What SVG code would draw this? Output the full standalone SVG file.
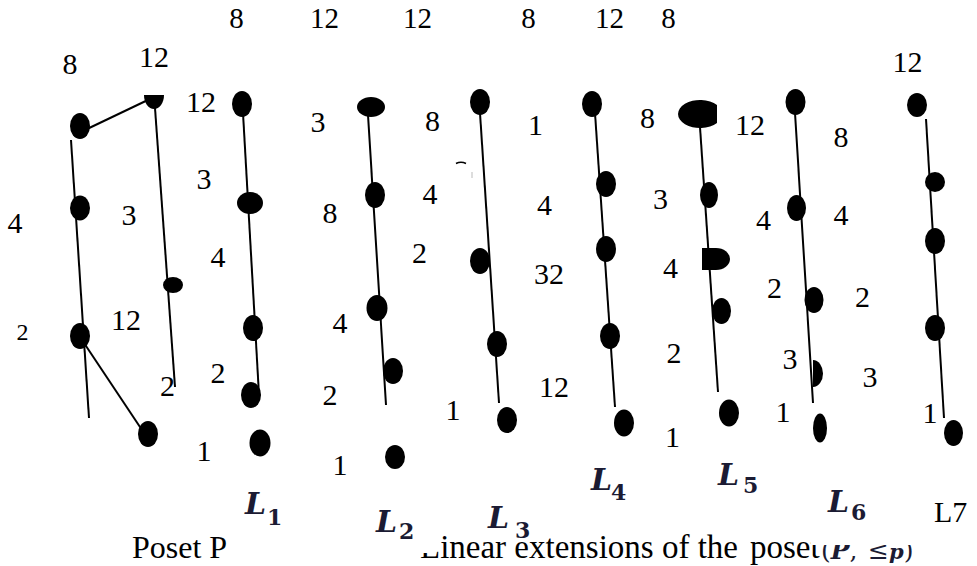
<svg xmlns="http://www.w3.org/2000/svg" width="977" height="566" viewBox="0 0 977 566">
<style>
.t{font-size:30px;fill:#000;text-anchor:middle}
.top{font-size:29px}
.L{font-style:italic;font-weight:bold;font-size:30px;fill:#1b1b33}
.sub{font-weight:bold;font-size:22px;fill:#1b1b33}
.edge{stroke:#000;stroke-width:2;fill:none}
.n{fill:#000}
.cap{font-size:33px;fill:#000}
</style>
<rect width="977" height="566" fill="#fff"/>

<!-- connectors -->
<g id="connectors">
  <line class="edge" x1="85" y1="130" x2="152" y2="98"/>
  <line class="edge" x1="71" y1="140" x2="89" y2="418"/>
  <line class="edge" x1="84" y1="343" x2="142" y2="430"/>
  <line class="edge" x1="155" y1="108" x2="175" y2="387"/>
  <line class="edge" x1="243" y1="113" x2="259" y2="395"/>
  <line class="edge" x1="368" y1="115" x2="386" y2="405"/>
  <line class="edge" x1="480" y1="113" x2="499" y2="403"/>
  <line class="edge" x1="595" y1="113" x2="615" y2="407"/>
  <line class="edge" x1="700" y1="127" x2="718" y2="392"/>
  <line class="edge" x1="795" y1="113" x2="813" y2="403"/>
  <line class="edge" x1="926" y1="119" x2="944" y2="418"/>
</g>

<!-- Poset P -->
<g id="poset">
  <g id="P-8"><ellipse class="n" cx="80" cy="126" rx="10" ry="13"/></g>
  <g id="P-12"><path class="n" d="M144,95 H164 A10,14 0 0 1 144,95 Z"/></g>
  <g id="P-4"><ellipse class="n" cx="80" cy="208" rx="10" ry="12.5"/></g>
  <g id="P-3"><ellipse class="n" cx="173" cy="285" rx="10" ry="8"/></g>
  <g id="P-2"><ellipse class="n" cx="80" cy="336" rx="10" ry="13"/></g>
  <g id="P-1"><ellipse class="n" cx="148" cy="434" rx="10" ry="13"/></g>
</g>

<g id="L1">
  <g id="L1-12"><ellipse class="n" cx="242" cy="104" rx="10" ry="13"/></g>
  <g id="L1-3"><ellipse class="n" cx="250" cy="203" rx="13" ry="11"/></g>
  <g id="L1-4"><ellipse class="n" cx="253" cy="328" rx="10" ry="13"/></g>
  <g id="L1-2"><ellipse class="n" cx="251" cy="395" rx="10" ry="13"/></g>
  <g id="L1-1"><ellipse class="n" cx="260" cy="443" rx="10.5" ry="13.5"/></g>
</g>

<g id="L2">
  <g id="L2-3"><ellipse class="n" cx="371" cy="107" rx="14" ry="10"/></g>
  <g id="L2-8"><ellipse class="n" cx="375" cy="195" rx="10" ry="13"/></g>
  <g id="L2-4"><ellipse class="n" cx="377" cy="308" rx="10.5" ry="13"/></g>
  <g id="L2-2"><ellipse class="n" cx="393" cy="371" rx="10" ry="13"/></g>
  <g id="L2-1"><ellipse class="n" cx="395" cy="457" rx="10" ry="12"/></g>
</g>

<g id="L3">
  <g id="L3-8"><ellipse class="n" cx="480" cy="102" rx="10" ry="13"/></g>
  <g id="L3-2"><ellipse class="n" cx="480" cy="261" rx="10" ry="13"/></g>
  <g id="L3-4"><ellipse class="n" cx="497" cy="344" rx="10" ry="13"/></g>
  <g id="L3-1"><ellipse class="n" cx="507" cy="420" rx="10" ry="13"/></g>
  <path d="M456,163.5 Q461,161 466,163.5" stroke="#000" stroke-width="1.5" fill="none"/>
  <line x1="472" y1="172" x2="472" y2="178" stroke="#bbb" stroke-width="1"/>
</g>

<g id="L4">
  <g id="L4-12"><ellipse class="n" cx="592" cy="104" rx="10" ry="13"/></g>
  <g id="L4-4"><ellipse class="n" cx="606" cy="184" rx="10" ry="13"/></g>
  <g id="L4-32"><ellipse class="n" cx="606" cy="249" rx="10" ry="13"/></g>
  <g id="L4-n4"><ellipse class="n" cx="610" cy="336" rx="10" ry="13"/></g>
  <g id="L4-n5"><ellipse class="n" cx="624" cy="423" rx="10" ry="13.5"/></g>
</g>

<g id="L5">
  <g id="L5-8"><path class="n" d="M717,105.1 A22,14 0 1 0 717,122.9 Z"/></g>
  <g id="L5-3"><ellipse class="n" cx="709" cy="195" rx="9" ry="13"/></g>
  <g id="L5-4"><path class="n" d="M702,248 H716 A14,11 0 0 1 716,270 H702 Z"/></g>
  <g id="L5-2"><ellipse class="n" cx="721.5" cy="311" rx="9.5" ry="13"/></g>
  <g id="L5-1"><ellipse class="n" cx="729" cy="413" rx="10" ry="13.5"/></g>
</g>

<g id="L6">
  <g id="L6-12"><ellipse class="n" cx="795.5" cy="102" rx="10" ry="13"/></g>
  <g id="L6-4"><ellipse class="n" cx="796.5" cy="208" rx="9.5" ry="13"/></g>
  <g id="L6-2"><ellipse class="n" cx="814" cy="300" rx="9.5" ry="13"/></g>
  <g id="L6-3"><path class="n" d="M813,360 A10,13.5 0 0 1 813,387 Z"/></g>
  <g id="L6-1"><ellipse class="n" cx="820" cy="428" rx="7" ry="14.5"/></g>
</g>

<g id="L7">
  <g id="L7-12"><ellipse class="n" cx="917" cy="105" rx="10" ry="12"/></g>
  <g id="L7-8"><ellipse class="n" cx="935" cy="182" rx="10" ry="10"/></g>
  <g id="L7-4"><ellipse class="n" cx="935" cy="241" rx="10" ry="13"/></g>
  <g id="L7-2"><ellipse class="n" cx="935" cy="328" rx="10" ry="13"/></g>
  <g id="L7-1"><ellipse class="n" cx="953.5" cy="433" rx="9.5" ry="13"/></g>
</g>

<!-- labels -->
<g id="labels" font-family="Liberation Serif, serif">
  <text class="t top" x="236.5" y="28">8</text>
  <text class="t top" x="324.5" y="28">12</text>
  <text class="t top" x="417.5" y="28">12</text>
  <text class="t top" x="528.5" y="28">8</text>
  <text class="t top" x="609.5" y="28">12</text>
  <text class="t top" x="668.5" y="28">8</text>

  <text class="t" x="70" y="74" font-size="25">8</text>
  <text class="t" x="154" y="67">12</text>
  <text class="t" x="15" y="233">4</text>
  <text class="t" x="129" y="225">3</text>
  <text class="t" x="22.5" y="340" style="font-size:24px">2</text>
  <text class="t" x="126" y="330">12</text>
  <text class="t" x="167.5" y="396">2</text>

  <text class="t" x="201" y="112">12</text>
  <text class="t" x="204" y="189">3</text>
  <text class="t" x="218" y="267">4</text>
  <text class="t" x="218" y="383">2</text>
  <text class="t" x="204" y="461">1</text>

  <text class="t" x="318" y="132">3</text>
  <text class="t" x="330" y="223">8</text>
  <text class="t" x="340" y="333">4</text>
  <text class="t" x="330" y="405">2</text>
  <text class="t" x="340" y="475">1</text>

  <text class="t" x="432.5" y="131">8</text>
  <text class="t" x="430" y="204">4</text>
  <text class="t" x="419.5" y="263">2</text>
  <text class="t" x="453" y="420">1</text>

  <text class="t" x="535.5" y="135">1</text>
  <text class="t" x="544.5" y="215">4</text>
  <text class="t" x="549" y="284">32</text>
  <text class="t" x="554" y="397">12</text>

  <text class="t" x="647.5" y="128">8</text>
  <text class="t" x="660.5" y="209">3</text>
  <text class="t" x="670.5" y="278">4</text>
  <text class="t" x="674" y="363">2</text>
  <text class="t" x="672.5" y="447">1</text>

  <text class="t" x="750" y="135">12</text>
  <text class="t" x="763.5" y="230">4</text>
  <text class="t" x="774.5" y="298">2</text>
  <text class="t" x="790" y="369">3</text>
  <text class="t" x="783" y="422">1</text>

  <text class="t" x="841" y="147">8</text>
  <text class="t" x="841" y="225">4</text>
  <text class="t" x="862.5" y="307">2</text>
  <text class="t" x="870" y="387">3</text>
  <text class="t" x="907.5" y="72">12</text>
  <text class="t" x="930" y="423">1</text>
  <text class="t" x="934" y="522" text-anchor="start" style="text-anchor:start">L7</text>

  <text class="cap" x="132" y="558" style="font-size:32px">Poset P</text>
  <text class="cap" x="420" y="558">Linear extensions of the<tspan x="750">poset</tspan></text>
</g>
<g id="math-labels" font-family="DejaVu Serif, serif">
  <text class="L" x="245" y="514">L</text><text class="sub" x="267" y="525">1</text>
  <text class="L" x="376" y="532">L</text><text class="sub" x="399" y="539">2</text>
  <text class="L" x="488" y="528">L</text><text class="sub" x="515" y="538">3</text>
  <text class="L" x="591" y="490">L</text><text class="sub" x="611" y="500">4</text>
  <text class="L" x="718" y="485">L</text><text class="sub" x="743" y="493">5</text>
  <text class="L" x="828" y="512">L</text><text class="sub" x="851" y="520">6</text>
  <text x="821" y="559" style="font-size:25px;fill:#1b1b33">(<tspan style="font-style:italic;font-weight:bold">P</tspan>,<tspan x="868">≤</tspan><tspan style="font-style:italic;font-weight:bold;font-size:21px">p</tspan>)</text>
</g>
<rect x="811" y="525" width="115" height="20" fill="#fff"/>
<rect x="418" y="528" width="13" height="25" fill="#fff"/>
</svg>
